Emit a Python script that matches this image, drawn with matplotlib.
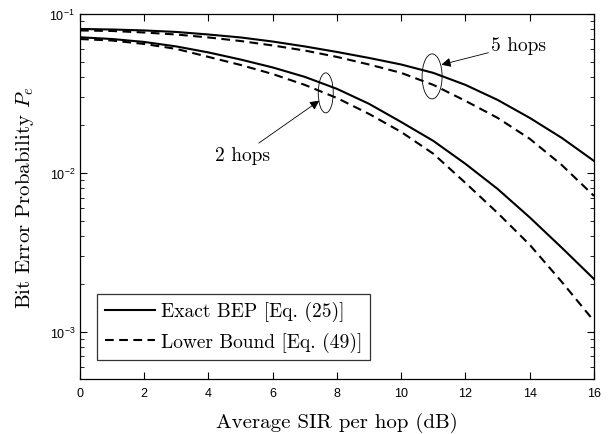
import numpy as np
import matplotlib
matplotlib.use("Agg")
import matplotlib.pyplot as plt
from matplotlib.patches import Ellipse
from matplotlib.transforms import ScaledTranslation

# SIR per hop (dB)
sir_db = [0, 1, 2, 3, 4, 5, 6, 7, 8, 9, 10, 11, 12, 13, 14, 15, 16]

# 5 hops
exact_5 = [0.0805, 0.0799, 0.0788, 0.0771, 0.0743, 0.0712, 0.0671, 0.0625,
           0.0577, 0.0529, 0.0481, 0.0426, 0.0358, 0.0288, 0.0222, 0.0166,
           0.0119]
lower_5 = [0.0788, 0.0782, 0.0765, 0.0743, 0.0712, 0.0676, 0.0634, 0.0589,
           0.0537, 0.0481, 0.0426, 0.0358, 0.0284, 0.0222, 0.0164, 0.0112,
           0.00717]

# 2 hops
exact_2 = [0.0714, 0.0696, 0.0667, 0.0625, 0.0573, 0.0517, 0.0461, 0.0402,
           0.0338, 0.0272, 0.0209, 0.0159, 0.0114, 0.00793, 0.00525,
           0.00338, 0.00215]
lower_2 = [0.0696, 0.0681, 0.0648, 0.0603, 0.0537, 0.0478, 0.0419, 0.0358,
           0.0296, 0.0235, 0.0181, 0.0132, 0.00865, 0.00560, 0.00353,
           0.00206, 0.00117]

plt.rcParams["mathtext.fontset"] = "custom"
plt.rcParams["mathtext.rm"] = "Liberation Sans"
plt.rcParams["mathtext.it"] = "Liberation Sans:italic"
plt.rcParams["font.family"] = "Liberation Sans"

SERIF = "cmr10"

fig = plt.figure(figsize=(6.13, 4.35), dpi=100)
ax = fig.add_axes([0.1305, 0.1264, 0.8385, 0.8391])

lw = 1.5
dash = (0, (4.2, 2.6))
ax.semilogy(sir_db, exact_5, color="black", lw=lw, label="Exact BEP [Eq. (25)]")
ax.semilogy(sir_db, lower_5, color="black", lw=lw, linestyle=dash,
            label="Lower Bound [Eq. (49)]")
ax.semilogy(sir_db, exact_2, color="black", lw=lw)
ax.semilogy(sir_db, lower_2, color="black", lw=lw, linestyle=dash)

ax.set_xlim(0, 16)
ax.set_ylim(5.05e-4, 1e-1)
ax.set_xticks(np.arange(0, 17, 2))
ax.tick_params(which="both", direction="in", top=True, right=True,
               labelsize=9)
ax.tick_params(axis="x", pad=6)
ax.tick_params(which="major", length=5, width=0.8)
ax.tick_params(which="minor", length=3, width=0.6)
ax.xaxis.set_minor_locator(matplotlib.ticker.NullLocator())
for s in ax.spines.values():
    s.set_linewidth(0.9)

ax.set_xlabel("Average SIR per hop (dB)", family=SERIF, fontsize=15,
              labelpad=9)
ax.set_ylabel(r"Bit Error Probability $P_e$", family=SERIF, fontsize=15,
              math_fontfamily="cm", labelpad=10)

leg = ax.legend(loc="lower left", prop={"family": SERIF, "size": 14},
                frameon=True, fancybox=False, edgecolor="black",
                handlelength=2.6, handletextpad=0.3, labelspacing=0.55,
                borderaxespad=0.6, bbox_to_anchor=(0.01, 0.02))
leg.get_frame().set_linewidth(0.9)


def ring(x, y, w_in, h_in):
    trans = fig.dpi_scale_trans + ScaledTranslation(x, y, ax.transData)
    ax.add_patch(Ellipse((0, 0), w_in, h_in, transform=trans, fill=False,
                         lw=0.6, edgecolor="black"))


ring(7.65, 0.0319, 0.15, 0.40)
ring(10.96, 0.0405, 0.20, 0.45)

arrow = dict(arrowstyle="-|>", color="black", lw=0.6, mutation_scale=14,
             shrinkA=0, shrinkB=0)
ax.annotate("2 hops", xy=(7.45, 0.0285), xytext=(5.9, 0.0130),
            fontsize=14, family=SERIF, ha="right", va="center",
            arrowprops=arrow)
ax.annotate("5 hops", xy=(11.25, 0.0480), xytext=(12.8, 0.0638),
            fontsize=14, family=SERIF, ha="left", va="center",
            arrowprops=arrow)

fig.savefig("out.png", dpi=100)
